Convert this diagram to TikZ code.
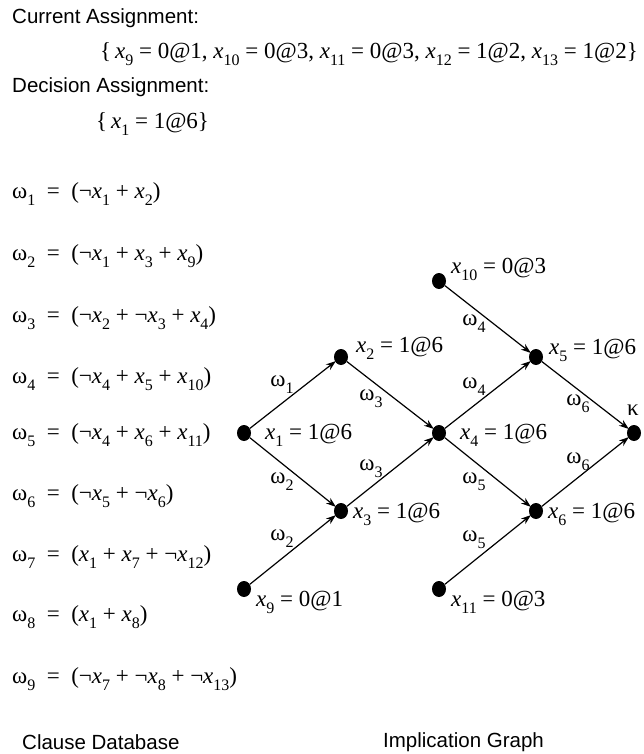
\documentclass[tikz,border=0pt]{standalone}
\usepackage{fontspec}
\setmainfont{Liberation Serif}
\setsansfont{Liberation Sans}
\usetikzlibrary{arrows.meta,shapes.geometric}
\newcommand\xs[1]{\textit{x}\raisebox{-0.3em}{\fontsize{16}{16}\selectfont #1}}
\newcommand\om[1]{ω\raisebox{-0.3em}{\fontsize{16}{16}\selectfont #1}}
\newcommand\NGt{¬}
\begin{document}
\begin{tikzpicture}[x=1pt,y=-1pt,
  dot/.style={ellipse,fill=black,inner sep=0pt,minimum width=14pt,minimum height=16pt},
  arr/.style={line width=1.2pt,-{Stealth[length=10pt,width=7pt]},shorten >=-1pt},
  head/.style={font=\sffamily\fontsize{20.5}{24}\selectfont,anchor=west,inner sep=0pt},
  ser/.style={font=\fontsize{23}{25}\selectfont,anchor=west,inner sep=0pt},
  lab/.style={font=\fontsize{23}{25}\selectfont,inner sep=0pt},
  wl/.style={font=\fontsize{23}{25}\selectfont,inner sep=0pt}]
\useasboundingbox (0,0) rectangle (643,754);
% headings
\node[head] (cur) at (12,18) {Current Assignment:};
\node[ser] (curset) at (100,54) {\{\,\xs{9} = 0@1, \xs{10} = 0@3, \xs{11} = 0@3, \xs{12} = 1@2, \xs{13} = 1@2\}};
\node[head] (dec) at (12,87) {Decision Assignment:};
\node[ser] (decset) at (96,124) {\{\,\xs{1} = 1@6\}};
% clauses
\node[ser] (c1) at (12,194) {\om{1} \ = \ (\NGt\xs{1} + \xs{2})};
\node[ser] (c2) at (12,256) {\om{2} \ = \ (\NGt\xs{1} + \xs{3} + \xs{9})};
\node[ser] (c3) at (12,318) {\om{3} \ = \ (\NGt\xs{2} + \NGt\xs{3} + \xs{4})};
\node[ser] (c4) at (12,379) {\om{4} \ = \ (\NGt\xs{4} + \xs{5} + \xs{10})};
\node[ser] (c5) at (12,435) {\om{5} \ = \ (\NGt\xs{4} + \xs{6} + \xs{11})};
\node[ser] (c6) at (12,496) {\om{6} \ = \ (\NGt\xs{5} + \NGt\xs{6})};
\node[ser] (c7) at (12,557) {\om{7} \ = \ (\xs{1} + \xs{7} + \NGt\xs{12})};
\node[ser] (c8) at (12,617) {\om{8} \ = \ (\xs{1} + \xs{8})};
\node[ser] (c9) at (12,679) {\om{9} \ = \ (\NGt\xs{7} + \NGt\xs{8} + \NGt\xs{13})};
\node[head] (cdb) at (22,742) {Clause Database};
\node[head] (ig) at (383,742) {Implication Graph};
% graph nodes
\node[dot] (x1) at (244,433) {};
\node[dot] (x2) at (341,357) {};
\node[dot] (x3) at (341,511) {};
\node[dot] (x9) at (244,589) {};
\node[dot] (x4) at (439,433) {};
\node[dot] (x10) at (439,281) {};
\node[dot] (x5) at (536,357) {};
\node[dot] (x6) at (536,511) {};
\node[dot] (x11) at (439,589) {};
\node[dot] (k) at (634,433) {};
% node labels
\node[ser] (lx1) at (265,435) {\xs{1} = 1@6};
\node[ser] (lx2) at (356,348) {\xs{2} = 1@6};
\node[ser] (lx3) at (353,514) {\xs{3} = 1@6};
\node[ser] (lx9) at (256,602) {\xs{9} = 0@1};
\node[ser] (lx4) at (460,435) {\xs{4} = 1@6};
\node[ser] (lx10) at (451,269) {\xs{10} = 0@3};
\node[ser] (lx5) at (549,350) {\xs{5} = 1@6};
\node[ser] (lx6) at (548,514) {\xs{6} = 1@6};
\node[ser] (lx11) at (451,602) {\xs{11} = 0@3};
\node[lab] (lk) at (633,410) {κ};
% edge labels
\node[wl] (w1) at (282,385) {\om{1}};
\node[wl] (w2a) at (282,482) {\om{2}};
\node[wl] (w2b) at (282,539) {\om{2}};
\node[wl] (w3a) at (371,399) {\om{3}};
\node[wl] (w3b) at (371,469) {\om{3}};
\node[wl] (w4a) at (474,324) {\om{4}};
\node[wl] (w4b) at (474,387) {\om{4}};
\node[wl] (w5a) at (474,482) {\om{5}};
\node[wl] (w5b) at (474,540) {\om{5}};
\node[wl] (w6a) at (578,404) {\om{6}};
\node[wl] (w6b) at (578,462) {\om{6}};
% edges
\draw[arr] (x1) -- (x2);
\draw[arr] (x1) -- (x3);
\draw[arr] (x9) -- (x3);
\draw[arr] (x2) -- (x4);
\draw[arr] (x3) -- (x4);
\draw[arr] (x10) -- (x5);
\draw[arr] (x4) -- (x5);
\draw[arr] (x4) -- (x6);
\draw[arr] (x11) -- (x6);
\draw[arr] (x5) -- (k);
\draw[arr] (x6) -- (k);
\end{tikzpicture}
\end{document}
